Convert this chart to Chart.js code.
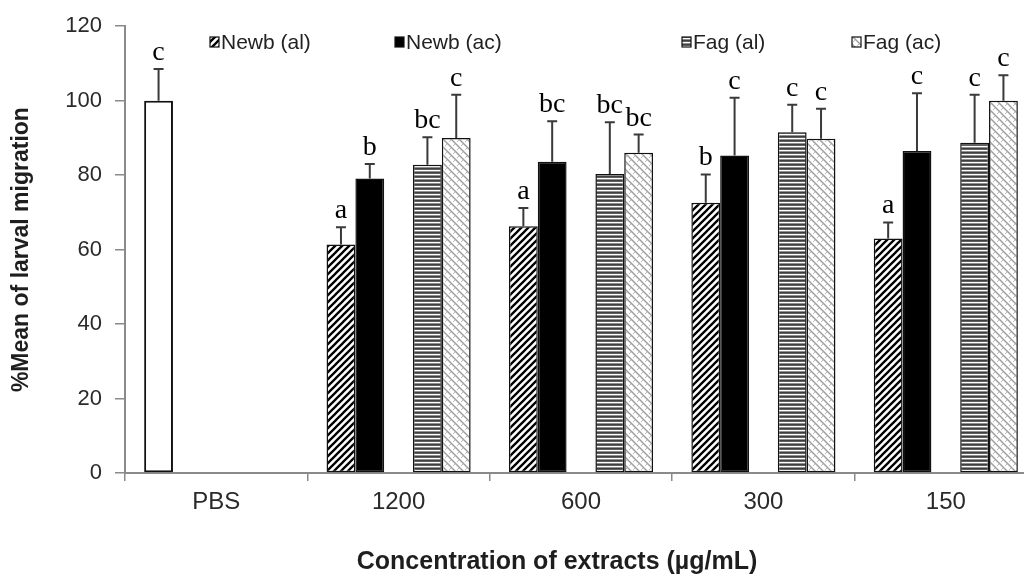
<!DOCTYPE html>
<html><head><meta charset="utf-8">
<script src="https://cdn.jsdelivr.net/npm/chart.js@4.4.1/dist/chart.umd.min.js"></script>
<style>
html,body{margin:0;padding:0;background:#fff;overflow:hidden;width:1024px;height:581px}
#wrap{position:absolute;left:0;top:0;width:1038px;height:581px}
</style>
</head><body><div id="wrap"><canvas id="c"></canvas></div>
<script>
// ---- data ----
const categories = ['PBS', '1200', '600', '300', '150'];
const yTickValues = [0, 20, 40, 60, 80, 100, 120];
const seriesNames = ['PBS', 'Newb (al)', 'Newb (ac)', '', 'Fag (al)', 'Fag (ac)'];

const pbsValues    = [100, null, null, null, null];
const pbsErrors    = [8.5, null, null, null, null];
const pbsLetters   = ['c', '', '', '', ''];

const newbAlValues  = [null, 61.4, 66.3, 72.6, 63.0];
const newbAlErrors  = [null, 4.6, 4.9, 7.6, 4.3];
const newbAlLetters = ['', 'a', 'a', 'b', 'a'];

const newbAcValues  = [null, 79.1, 83.6, 85.3, 86.5];
const newbAcErrors  = [null, 3.9, 10.9, 15.5, 15.5];
const newbAcLetters = ['', 'b', 'bc', 'c', 'c'];

const spacerValues  = [null, null, null, null, null];

const fagAlValues   = [null, 82.8, 80.3, 91.5, 88.7];
const fagAlErrors   = [null, 7.4, 13.9, 7.4, 12.9];
const fagAlLetters  = ['', 'bc', 'bc', 'c', 'c'];

const fagAcValues   = [null, 90.0, 86.0, 89.8, 100.0];
const fagAcErrors   = [null, 11.6, 4.9, 8.0, 6.8];
const fagAcLetters  = ['', 'c', 'bc', 'c', 'c'];

const errorsBySeries  = [pbsErrors, newbAlErrors, newbAcErrors, spacerValues, fagAlErrors, fagAcErrors];
const lettersBySeries = [pbsLetters, newbAlLetters, newbAcLetters, [], fagAlLetters, fagAcLetters];

// ---- patterns ----
function makePattern(w, h, draw) {
  const c = document.createElement('canvas'); c.width = w; c.height = h;
  const g = c.getContext('2d'); draw(g, w, h);
  return g.createPattern(c, 'repeat');
}
const hatch = makePattern(7, 7, (g, s) => {
  g.fillStyle = '#fff'; g.fillRect(0, 0, s, s);
  g.strokeStyle = '#000'; g.lineWidth = 2.3; g.beginPath();
  g.moveTo(0, s); g.lineTo(s, 0);
  g.moveTo(-s / 2, s / 2); g.lineTo(s / 2, -s / 2);
  g.moveTo(s / 2, s * 1.5); g.lineTo(s * 1.5, s / 2);
  g.stroke();
});
const stripes = makePattern(4, 4, (g) => {
  const rows = ['#3f3f3f', '#606060', '#ffffff', '#8f8f8f'];
  rows.forEach((col, i) => { g.fillStyle = col; g.fillRect(0, i, 4, 1); });
});
const weave = makePattern(8, 8, (g, s) => {
  g.fillStyle = '#fff'; g.fillRect(0, 0, s, s);
  g.strokeStyle = '#a0a0a0'; g.lineWidth = 1.5; g.beginPath();
  g.moveTo(0, 0); g.lineTo(s, s);
  g.moveTo(-s / 2, s / 2); g.lineTo(s / 2, s * 1.5);
  g.moveTo(s / 2, -s / 2); g.lineTo(s * 1.5, s / 2);
  g.stroke();
  g.strokeStyle = '#bdbdbd'; g.lineWidth = 1; g.beginPath();
  g.moveTo(1, 6); g.lineTo(3, 4);
  g.moveTo(5, 2); g.lineTo(7, 0);
  g.stroke();
});

const fills = ['#ffffff', hatch, '#000000', 'rgba(0,0,0,0)', stripes, weave];
const stacks = ['g1', 'g1', 'g2', 'g3', 'g4', 'g5'];
const valuesBySeries = [pbsValues, newbAlValues, newbAcValues, spacerValues, fagAlValues, fagAcValues];

const datasets = valuesBySeries.map((vals, i) => ({
  label: seriesNames[i],
  data: vals,
  backgroundColor: fills[i],
  borderColor: '#111',
  borderWidth: i === 0 ? 2 : 1.5,
  borderSkipped: false,
  stack: stacks[i],
  categoryPercentage: 0.79,
  barPercentage: 1.0
}));

// ---- plugins ----
const errorPlugin = {
  id: 'errorsAndLetters',
  afterDatasetsDraw(chart) {
    const ctx = chart.ctx, y = chart.scales.y;
    ctx.save();
    chart.data.datasets.forEach((ds, di) => {
      const meta = chart.getDatasetMeta(di);
      const errs = errorsBySeries[di], lets = lettersBySeries[di];
      meta.data.forEach((el, i) => {
        const v = ds.data[i];
        if (v === null || v === undefined) return;
        const e = errs[i] || 0;
        const top = y.getPixelForValue(v + e);
        ctx.strokeStyle = '#3a3a3a'; ctx.lineWidth = 2;
        ctx.beginPath();
        ctx.moveTo(el.x, el.y); ctx.lineTo(el.x, top);
        ctx.moveTo(el.x - 5, top); ctx.lineTo(el.x + 5, top);
        ctx.stroke();
        const L = lets[i];
        if (L) {
          ctx.fillStyle = '#000';
          ctx.font = '28px "Liberation Serif", "Times New Roman", serif';
          ctx.textAlign = 'center'; ctx.textBaseline = 'alphabetic';
          ctx.fillText(L, el.x, top - 9);
        }
      });
    });
    ctx.restore();
  }
};

const legendItems = [1, 2, 4, 5];
const overlayPlugin = {
  id: 'overlay',
  afterDraw(chart) {
    const ctx = chart.ctx;
    ctx.save();
    // legend
    const xs = [210, 395, 682, 852];
    const cy = 42;
    legendItems.forEach((si, k) => {
      const x = xs[k];
      ctx.fillStyle = fills[si];
      ctx.fillRect(x, cy - 5, 9, 10);
      ctx.strokeStyle = '#111'; ctx.lineWidth = 1.2;
      ctx.strokeRect(x, cy - 5, 9, 10);
      ctx.fillStyle = '#222';
      ctx.font = '21px "Liberation Sans", Arial, sans-serif';
      ctx.textAlign = 'left'; ctx.textBaseline = 'middle';
      ctx.fillText(seriesNames[si], x + 11, cy + 1);
    });
    // x axis title
    ctx.fillStyle = '#1e1e1e';
    ctx.font = 'bold 25px "Liberation Sans", Arial, sans-serif';
    ctx.textAlign = 'center'; ctx.textBaseline = 'middle';
    ctx.fillText('Concentration of extracts (\u00b5g/mL)', 557, 562);
    ctx.restore();
  }
};

new Chart(document.getElementById('c'), {
  type: 'bar',
  data: { labels: categories, datasets },
  options: {
    responsive: true,
    maintainAspectRatio: false,
    animation: false,
    layout: { padding: { top: 23, right: 1, left: 0, bottom: 0 } },
    plugins: { legend: { display: false }, tooltip: { enabled: false } },
    scales: {
      x: {
        grid: { display: true, drawOnChartArea: false, drawTicks: true, tickLength: 8, color: '#8a8a8a', lineWidth: 1.5, offset: true },
        border: { display: true, color: '#8a8a8a', width: 2 },
        ticks: { color: '#2a2a2a', font: { family: '"Liberation Sans", Arial, sans-serif', size: 24 }, padding: 7 },
        afterFit(s) { s.height = 108; }
      },
      y: {
        stacked: false,
        min: 0, max: 120,
        afterBuildTicks(s) { s.ticks = yTickValues.map(v => ({ value: v })); },
        grid: { display: true, drawOnChartArea: false, drawTicks: true, tickLength: 10, color: '#8a8a8a', lineWidth: 1.5 },
        border: { display: true, color: '#8a8a8a', width: 2 },
        ticks: { color: '#2a2a2a', font: { family: '"Liberation Sans", Arial, sans-serif', size: 22 }, padding: 13 },
        title: { display: true, text: '%Mean of larval migration', color: '#1e1e1e',
                 font: { family: '"Liberation Sans", Arial, sans-serif', size: 23, weight: 'bold' }, padding: { top: 8, bottom: 0 } },
        afterFit(s) { s.width = 125; }
      }
    }
  },
  plugins: [errorPlugin, overlayPlugin]
});
</script>
</body></html>
